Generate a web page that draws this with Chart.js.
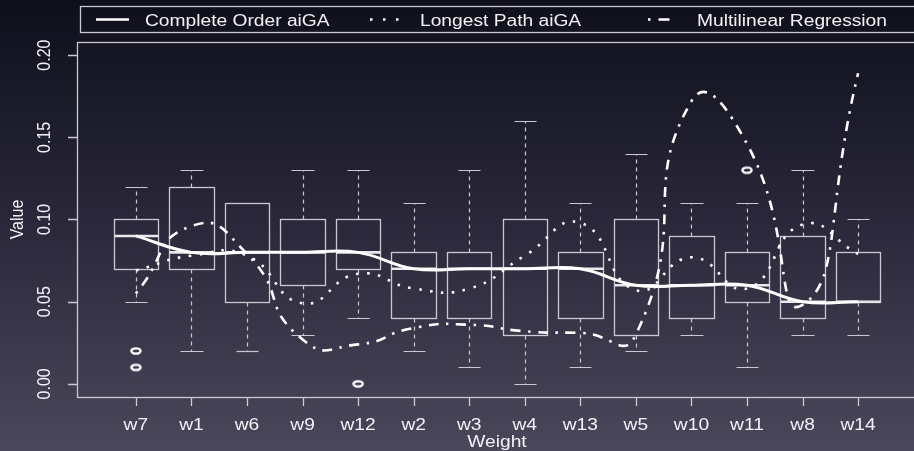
<!DOCTYPE html>
<html>
<head>
<meta charset="utf-8">
<script src="https://cdn.jsdelivr.net/npm/chart.js@4.4.1/dist/chart.umd.min.js"></script>
<style>
  html, body { margin: 0; padding: 0; width: 914px; height: 451px; overflow: hidden;
    background: linear-gradient(to bottom, #0f0f1c 0%, #2a283a 50%, #4b475b 100%); }
  #wrap { position: absolute; left: 0; top: 0; width: 934px; height: 451px; }
</style>
</head>
<body>
<div id="wrap"><canvas id="chart" width="934" height="451"></canvas></div>
<script>
// Weight categories, in plotting order
const categories = ['w7','w1','w6','w9','w12','w2','w3','w4','w13','w5','w10','w11','w8','w14'];

// Box-plot summaries per weight
const whiskerLow  = [0.05,0.02,0.02,0.03,0.04,0.02,0.01,0.00,0.01,0.02,0.03,0.01,0.03,0.03];
const quartile1   = [0.07,0.07,0.05,0.06,0.07,0.04,0.04,0.03,0.04,0.03,0.04,0.05,0.04,0.05];
const medians     = [0.09,0.08,0.08,0.08,0.08,0.07,0.07,0.07,0.07,0.06,0.06,0.06,0.05,0.05];
const quartile3   = [0.10,0.12,0.11,0.10,0.10,0.08,0.08,0.10,0.08,0.10,0.09,0.08,0.09,0.08];
const whiskerHigh = [0.12,0.13,0.11,0.13,0.13,0.11,0.13,0.16,0.11,0.14,0.11,0.11,0.13,0.10];

// Outlying observations
const outlierWeights = ['w7','w7','w12','w11'];
const outlierValues  = [0.02,0.01,0.00,0.13];

// Method curves
const completeOrderAiGA     = [0.09,0.08,0.08,0.08,0.08,0.07,0.07,0.07,0.07,0.06,0.06,0.06,0.05,0.05];
const longestPathAiGA       = [0.069,0.078,0.078,0.049,0.067,0.058,0.058,0.078,0.098,0.057,0.077,0.058,0.097,0.079];
const multilinearRegression = [0.055,0.096,0.079,0.027,0.024,0.034,0.036,0.032,0.031,0.030,0.172,0.146,0.048,0.189];

// Axis ticks
const yTicks = [0.00, 0.05, 0.10, 0.15, 0.20];
const yTickLabels = ['0.00','0.05','0.10','0.15','0.20'];

const FONT = '"Liberation Sans", Arial, Helvetica, sans-serif';
const TEXT_STRETCH = 1.2;
const TEXT_COLOR = '#f2f2f4';
const AXIS_COLOR = '#c9c9cf';

const toPoints = arr => arr.map((v, i) => ({ x: i + 1, y: v }));

function ringImage() {
  const c = document.createElement('canvas');
  c.width = 14; c.height = 10;
  const g = c.getContext('2d');
  g.strokeStyle = '#ffffff';
  g.lineWidth = 2.4;
  g.beginPath();
  g.ellipse(7, 5, 4.6, 2.6, 0, 0, Math.PI * 2);
  g.stroke();
  return c;
}

function stretchedText(ctx, text, x, y, align, rotate) {
  ctx.save();
  ctx.translate(x, y);
  ctx.scale(TEXT_STRETCH, 1);
  if (rotate) ctx.rotate(-Math.PI / 2);
  ctx.textAlign = align;
  ctx.textBaseline = 'alphabetic';
  ctx.fillText(text, 0, 0);
  ctx.restore();
}

// Boxes, whiskers and medians drawn through the chart's scales
const boxPlotPlugin = {
  id: 'boxPlot',
  beforeDatasetsDraw(chart) {
    const { ctx, scales: { x, y } } = chart;
    const boxHalf = 0.4, capHalf = 0.2;
    ctx.save();
    ctx.strokeStyle = AXIS_COLOR;
    categories.forEach((c, i) => {
      const cx = Math.round(x.getPixelForValue(i + 1)) + 0.5;
      const xl = Math.round(x.getPixelForValue(i + 1 - boxHalf)) + 0.5;
      const xr = Math.round(x.getPixelForValue(i + 1 + boxHalf)) + 0.5;
      const cl = Math.round(x.getPixelForValue(i + 1 - capHalf)) + 0.5;
      const cr = Math.round(x.getPixelForValue(i + 1 + capHalf)) + 0.5;
      const yq1 = Math.round(y.getPixelForValue(quartile1[i])) + 0.5;
      const yq3 = Math.round(y.getPixelForValue(quartile3[i])) + 0.5;
      const ylo = Math.round(y.getPixelForValue(whiskerLow[i])) + 0.5;
      const yhi = Math.round(y.getPixelForValue(whiskerHigh[i])) + 0.5;
      const ymd = y.getPixelForValue(medians[i]);

      // whiskers (dashed)
      ctx.lineWidth = 1.2;
      ctx.setLineDash([4, 4]);
      ctx.beginPath();
      if (yhi < yq3) { ctx.moveTo(cx, yq3); ctx.lineTo(cx, yhi); }
      if (ylo > yq1) { ctx.moveTo(cx, yq1); ctx.lineTo(cx, ylo); }
      ctx.stroke();
      // staples
      ctx.setLineDash([]);
      ctx.beginPath();
      if (yhi < yq3) { ctx.moveTo(cl, yhi); ctx.lineTo(cr, yhi); }
      if (ylo > yq1) { ctx.moveTo(cl, ylo); ctx.lineTo(cr, ylo); }
      ctx.stroke();
      // box
      ctx.lineWidth = 1.3;
      ctx.strokeRect(xl, yq3, xr - xl, yq1 - yq3);
      // median
      ctx.lineWidth = 2.6;
      ctx.strokeStyle = '#e8e8ec';
      ctx.beginPath();
      ctx.moveTo(xl, ymd); ctx.lineTo(xr, ymd);
      ctx.stroke();
      ctx.strokeStyle = AXIS_COLOR;
    });
    ctx.restore();
  }
};

// Frame, ticks, axis labels and legend
const framePlugin = {
  id: 'frame',
  afterDraw(chart) {
    const { ctx, chartArea: a, scales: { x, y } } = chart;
    ctx.save();
    ctx.strokeStyle = AXIS_COLOR;
    ctx.lineWidth = 1.3;
    ctx.setLineDash([]);
    ctx.strokeRect(a.left + 0.5, a.top + 0.5, a.right - a.left, a.bottom - a.top);

    // y ticks
    ctx.beginPath();
    yTicks.forEach(v => {
      const py = Math.round(y.getPixelForValue(v)) + 0.5;
      ctx.moveTo(a.left - 9, py); ctx.lineTo(a.left, py);
    });
    // x ticks
    categories.forEach((c, i) => {
      const px = Math.round(x.getPixelForValue(i + 1)) + 0.5;
      ctx.moveTo(px, a.bottom); ctx.lineTo(px, a.bottom + 9);
    });
    ctx.stroke();

    ctx.fillStyle = TEXT_COLOR;
    ctx.font = '16px ' + FONT;
    yTicks.forEach((v, i) => {
      stretchedText(ctx, yTickLabels[i], a.left - 27, y.getPixelForValue(v), 'center', true);
    });
    categories.forEach((c, i) => {
      stretchedText(ctx, c, x.getPixelForValue(i + 1), a.bottom + 33, 'center', false);
    });
    stretchedText(ctx, 'Weight', (a.left + a.right) / 2, a.bottom + 50, 'center', false);
    stretchedText(ctx, 'Value', a.left - 54, (a.top + a.bottom) / 2, 'center', true);

    // legend
    const ly = 19.5;
    ctx.strokeStyle = AXIS_COLOR;
    ctx.lineWidth = 1.3;
    ctx.strokeRect(80.5, 6.5, 900, 26);
    ctx.strokeStyle = '#ffffff';
    ctx.lineWidth = 2.6;
    ctx.beginPath(); ctx.moveTo(96, ly); ctx.lineTo(129, ly); ctx.stroke();
    ctx.setLineDash([2.5, 10.5]);
    ctx.beginPath(); ctx.moveTo(370, ly); ctx.lineTo(402, ly); ctx.stroke();
    ctx.setLineDash([2.5, 8, 11, 8]);
    ctx.beginPath(); ctx.moveTo(648, ly); ctx.lineTo(672, ly); ctx.stroke();
    ctx.setLineDash([]);
    ctx.fillStyle = TEXT_COLOR;
    ctx.font = '16px ' + FONT;
    stretchedText(ctx, 'Complete Order aiGA', 145, 26, 'left', false);
    stretchedText(ctx, 'Longest Path aiGA', 420, 26, 'left', false);
    stretchedText(ctx, 'Multilinear Regression', 697, 26, 'left', false);
    ctx.restore();
  }
};

new Chart(document.getElementById('chart'), {
  type: 'line',
  data: {
    datasets: [
      {
        label: 'Complete Order aiGA',
        data: toPoints(completeOrderAiGA),
        borderColor: '#ffffff', borderWidth: 3, tension: 0.4,
        pointRadius: 0, fill: false
      },
      {
        label: 'Longest Path aiGA',
        data: toPoints(longestPathAiGA),
        borderColor: '#ffffff', borderWidth: 2.6, tension: 0.5,
        borderDash: [2.5, 8.5], pointRadius: 0, fill: false
      },
      {
        label: 'Multilinear Regression',
        data: toPoints(multilinearRegression),
        borderColor: '#ffffff', borderWidth: 2.6, tension: 0.6,
        borderDash: [2.5, 7.5, 10, 7.5], pointRadius: 0, fill: false
      },
      {
        type: 'scatter',
        label: 'Outliers',
        data: outlierWeights.map((w, i) => ({ x: categories.indexOf(w) + 1, y: outlierValues[i] })),
        showLine: false,
        pointStyle: ringImage(),
        pointRadius: 5
      }
    ]
  },
  options: {
    responsive: false,
    devicePixelRatio: 1,
    animation: false,
    layout: { padding: { left: 77, right: 17, top: 42, bottom: 54 } },
    plugins: { legend: { display: false }, tooltip: { enabled: false }, title: { display: false } },
    scales: {
      x: { type: 'linear', min: -0.06, max: 15.06, display: false },
      y: { type: 'linear', min: -0.008, max: 0.208, display: false }
    }
  },
  plugins: [boxPlotPlugin, framePlugin]
});
</script>
</body>
</html>
